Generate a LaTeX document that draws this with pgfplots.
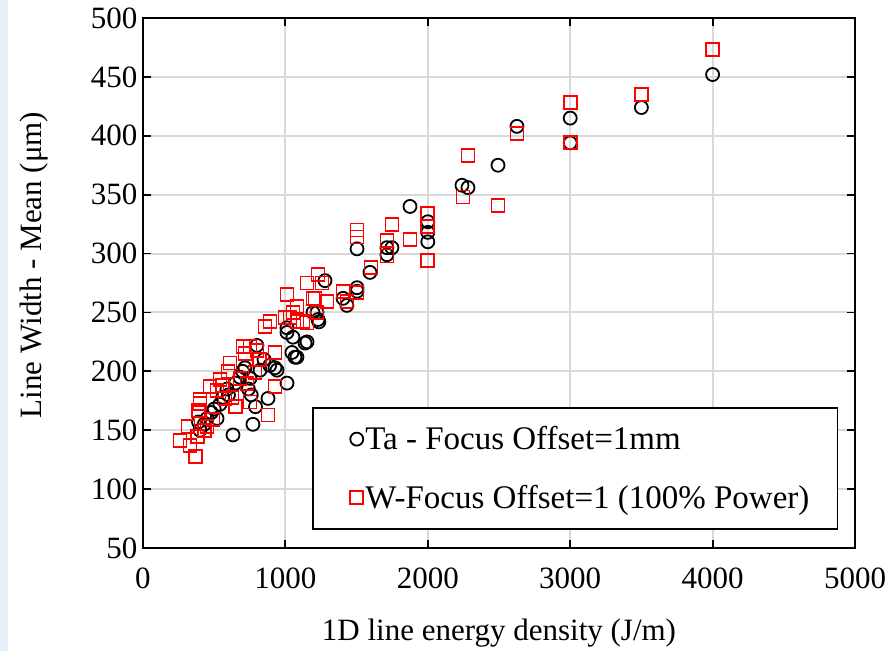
\documentclass[border=0pt]{standalone}
\usepackage{fontspec}
\setmainfont{Liberation Serif}
\usepackage{pgfplots}
\pgfplotsset{compat=1.18}
\definecolor{stripblue}{RGB}{231,237,249}
\definecolor{gridgray}{RGB}{217,217,217}
\newcommand{\bigfont}{\fontsize{31}{37}\selectfont}
\newcommand{\legfont}{\fontsize{33}{39}\selectfont}
\begin{document}
\begin{tikzpicture}
\path[use as bounding box] (-143pt,-103pt) rectangle (752pt,548pt);
\fill[stripblue] (-143pt,-103pt) rectangle (-135pt,548pt);
\begin{axis}[
  at={(0pt,0pt)}, anchor=south west,
  scale only axis, width=712pt, height=530pt,
  xmin=0, xmax=5000, ymin=50, ymax=500,
  xtick={0,1000,2000,3000,4000,5000},
  xticklabels={0,1000,2000,3000,4000,5000},
  ytick={50,100,150,200,250,300,350,400,450,500},
  yticklabels={50,100,150,200,250,300,350,400,450,500},
  axis line style={line width=2.2pt},
  every tick/.style={black, line width=1.8pt},
  major tick length=8pt, tick align=inside,
  grid=major, major grid style={draw=gridgray, line width=2pt},
  tick label style={font=\bigfont},
  xticklabel style={yshift=-16pt},
  yticklabel style={xshift=-2pt},
  label style={font=\bigfont},
  xlabel={1D line energy density (J/m)},
  ylabel={Line Width - Mean (μm)},
  xlabel style={at={(axis description cs:0.5,-0.1736)}, anchor=base},
  ylabel style={at={(axis description cs:-0.1432,0.534)}, anchor=base},
  legend style={font=\legfont, draw=black, line width=1.5pt,
    at={(rel axis cs:0.2374,0.034)}, anchor=south west,
    inner xsep=26pt, inner ysep=17pt, row sep=30pt,
    cells={anchor=west}},
  legend cell align=left,
  legend image code/.code={\path[draw=none,fill=none] (0pt,0pt) -- (24pt,0pt);\draw[#1] plot[only marks] coordinates {(18pt,0pt)};},
]
\addplot[only marks, mark=o, mark size=6.5pt, black, line width=1.8pt] coordinates {
(400,150) (390,157) (430,155) (450,160) (480,165) (500,168) (520,160) (540,172)
(560,178) (590,185) (600,180) (632,146) (650,190) (680,195) (700,200) (716,203)
(740,185) (751,194) (760,180) (772,155) (790,170) (800,222) (822,201) (850,210)
(878,177) (890,205) (927,203) (941,201) (1011,190) (1011,233) (1011,237) (1046,216)
(1053,229) (1067,212) (1081,212) (1138,224) (1152,225) (1194,250) (1222,250) (1229,244)
(1235,242) (1278,277) (1405,262) (1432,256) (1503,304) (1503,271) (1503,268) (1594,284)
(1713,299) (1713,305) (1748,305) (1875,340) (2000,327) (2000,318) (2000,310) (2240,358)
(2282,356) (2493,375) (2626,408) (3000,415) (3000,394) (3500,424) (4000,452)
};
\addlegendentry{Ta - Focus Offset=1mm}
\addplot[only marks, mark=square, mark size=6.5pt, red, line width=1.8pt] coordinates {
(260,141) (316,153) (330,137) (370,128) (380,145) (390,167) (400,173) (400,176)
(430,150) (450,153) (471,187) (492,159) (520,184) (541,193) (560,188) (576,177)
(597,200) (611,207) (625,178) (650,170) (681,194) (702,221) (716,215) (730,190)
(751,221) (751,174) (787,199) (801,218) (820,210) (857,238) (878,163) (892,242)
(927,216) (927,187) (997,246) (1011,265) (1032,246) (1053,250) (1081,242) (1081,255)
(1124,242) (1152,275) (1152,241) (1194,262) (1208,262) (1222,250) (1229,282) (1257,275)
(1292,259) (1405,268) (1432,259) (1503,320) (1503,314) (1503,267) (1601,288) (1713,311)
(1713,298) (1748,325) (1875,312) (2000,334) (2000,323) (2000,294) (2247,348) (2282,383)
(2493,341) (2626,402) (3000,428) (3000,394) (3500,435) (4000,473)
};
\addlegendentry{W-Focus Offset=1 (100\% Power)}
\end{axis}
\end{tikzpicture}
\end{document}
